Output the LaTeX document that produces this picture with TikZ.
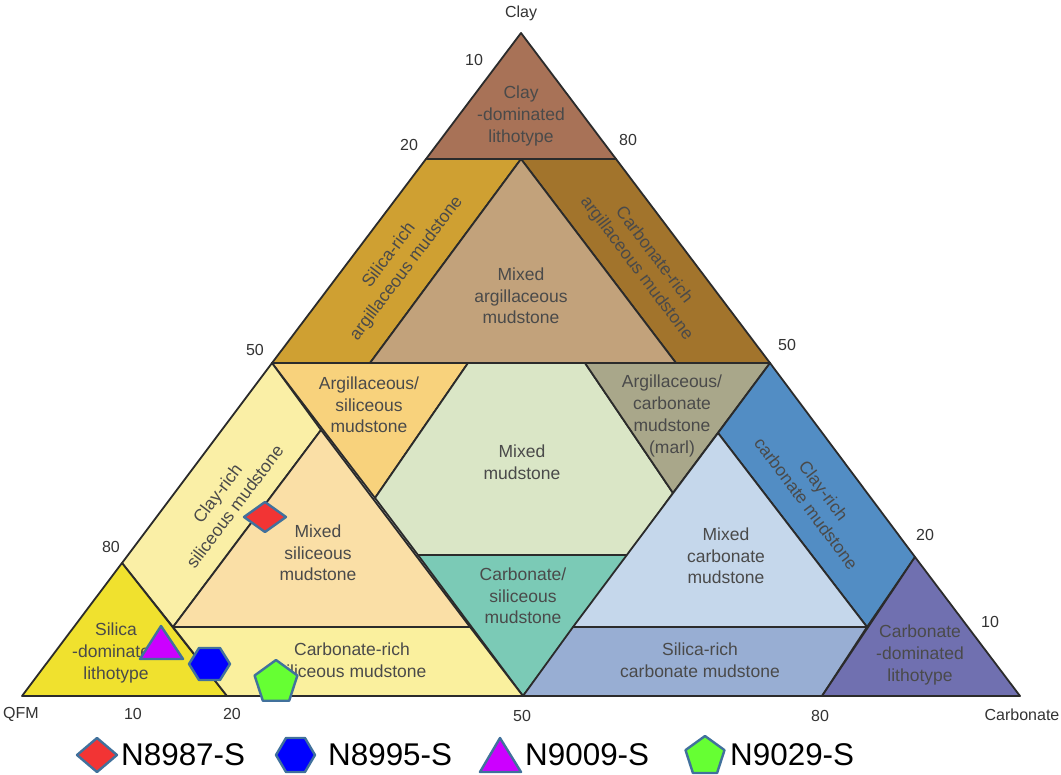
\documentclass[tikz,border=0pt]{standalone}
\usepackage{fontspec}
\setmainfont{Liberation Sans}
\definecolor{edgec}{HTML}{2B2B2B}
\definecolor{labc}{HTML}{4A4A4A}
\definecolor{numc}{HTML}{333333}
\definecolor{mkb}{HTML}{41719C}
\definecolor{cClayDom}{HTML}{A87257}
\definecolor{cSilArg}{HTML}{CFA032}
\definecolor{cCarbArg}{HTML}{A2742C}
\definecolor{cMixArg}{HTML}{C2A27B}
\definecolor{cArgSil}{HTML}{F8D27C}
\definecolor{cMixMud}{HTML}{DAE6C6}
\definecolor{cMarl}{HTML}{A9A78A}
\definecolor{cClaySil}{HTML}{FAEFA6}
\definecolor{cMixSil}{HTML}{FADFA6}
\definecolor{cSilDom}{HTML}{F0E12E}
\definecolor{cCarbSil}{HTML}{FAF09E}
\definecolor{cCarbSilM}{HTML}{7BCAB6}
\definecolor{cMixCarb}{HTML}{C5D7EB}
\definecolor{cClayCarb}{HTML}{528DC4}
\definecolor{cSilCarb}{HTML}{98AED3}
\definecolor{cCarbDom}{HTML}{7070B0}
\definecolor{mRed}{HTML}{F23434}
\definecolor{mBlue}{HTML}{0000FF}
\definecolor{mPurp}{HTML}{CC00FF}
\definecolor{mGreen}{HTML}{66FF33}
\begin{document}
\begin{tikzpicture}[x=1pt,y=-1pt,
  region/.style={draw=edgec, line width=1.8pt, line join=round},
  lab/.style={align=center, text=labc, font=\fontsize{17.5}{21.7}\selectfont, inner sep=0pt},
  axl/.style={text=numc, font=\fontsize{16}{18}\selectfont, inner sep=0pt},
  mk/.style={draw=mkb, line width=2.4pt, line join=round},
  leg/.style={anchor=base west, inner sep=0pt, font=\fontsize{31.4}{36}\selectfont}]
\fill[white] (0,0) rectangle (1061,775);
\useasboundingbox (0,0) rectangle (1061,775);
% vertices
\coordinate (L) at (22,696);
\coordinate (R) at (1020,696);
\coordinate (T) at (521,33);
\coordinate (c8l) at (426,159);
\coordinate (c8m) at (521,159);
\coordinate (c8r) at (616,159);
\coordinate (c5l) at (272,363);
\coordinate (ma1) at (370,363);
\coordinate (as1) at (468,363);
\coordinate (mr1) at (585,363);
\coordinate (ma2) at (676,363);
\coordinate (c5r) at (770,363);
\coordinate (cs1) at (321,430);
\coordinate (bs1) at (718,433);
\coordinate (asb) at (375,498);
\coordinate (mrb) at (673,493);
\coordinate (sd1) at (122,563);
\coordinate (cd1) at (915,557);
\coordinate (cs2) at (418,555);
\coordinate (cs3) at (628,555);
\coordinate (j1) at (173,627);
\coordinate (j2) at (470,627);
\coordinate (j3) at (573,627);
\coordinate (j4) at (867,627);
\coordinate (sd2) at (227,696);
\coordinate (bm) at (523,696);
\coordinate (cd2) at (822,696);
% regions
\path[region, fill=cClayDom] (c8l) -- (T) -- (c8r) -- cycle;
\path[region, fill=cSilArg] (c5l) -- (c8l) -- (c8m) -- (ma1) -- cycle;
\path[region, fill=cCarbArg] (c8m) -- (c8r) -- (c5r) -- (ma2) -- cycle;
\path[region, fill=cMixArg] (c8m) -- (ma1) -- (ma2) -- cycle;
\path[region, fill=cArgSil] (c5l) -- (as1) -- (asb) -- cycle;
\path[region, fill=cMixMud] (as1) -- (mr1) -- (mrb) -- (cs3) -- (cs2) -- (asb) -- cycle;
\path[region, fill=cMarl] (mr1) -- (c5r) -- (mrb) -- cycle;
\path[region, fill=cCarbSilM] (cs2) -- (cs3) -- (bm) -- cycle;
\path[region, fill=cClaySil] (c5l) -- (cs1) -- (j1) -- (sd1) -- cycle;
\path[region, fill=cMixSil] (cs1) -- (j2) -- (j1) -- cycle;
\path[region, fill=cSilDom] (sd1) -- (sd2) -- (L) -- cycle;
\path[region, fill=cCarbSil] (j1) -- (j2) -- (bm) -- (sd2) -- cycle;
\path[region, fill=cClayCarb] (c5r) -- (cd1) -- (j4) -- (bs1) -- cycle;
\path[region, fill=cMixCarb] (bs1) -- (j4) -- (j3) -- cycle;
\path[region, fill=cSilCarb] (j3) -- (j4) -- (cd2) -- (bm) -- cycle;
\path[region, fill=cCarbDom] (cd1) -- (R) -- (cd2) -- cycle;
% region labels
\node[lab] (tClayDom) at (521,116) {Clay\\-dominated\\lithotype};
\node[lab, rotate=53] (tSilArg) at (398,262) {Silica-rich\\argillaceous mudstone};
\node[lab, rotate=-53] (tCarbArg) at (645,262) {Carbonate-rich\\argillaceous mudstone};
\node[lab] (tMixArg) at (521,296) {Mixed\\argillaceous\\mudstone};
\node[lab] (tArgSil) at (369,405) {Argillaceous/\\siliceous\\mudstone};
\node[lab] (tMixMud) at (522,462) {Mixed\\mudstone};
\node[lab] (tMarl) at (672,416) {Argillaceous/\\carbonate\\mudstone\\(marl)};
\node[lab, rotate=53] (tClaySil) at (226,500) {Clay-rich\\siliceous mudstone};
\node[lab] (tMixSil) at (318,553) {Mixed\\siliceous\\mudstone};
\node[lab] (tSilDom) at (116,653) {Silica\\-dominated\\lithotype};
\node[lab] (tCarbSil) at (352,660) {Carbonate-rich\\siliceous mudstone};
\node[lab] (tCarbSilM) at (523,596) {Carbonate/\\siliceous\\mudstone};
\node[lab] (tMixCarb) at (726,556) {Mixed\\carbonate\\mudstone};
\node[lab, rotate=-53] (tClayCarb) at (815,497) {Clay-rich\\carbonate mudstone};
\node[lab] (tSilCarb) at (700,660) {Silica-rich\\carbonate mudstone};
\node[lab] (tCarbDom) at (920,655) {Carbonate\\-dominated\\lithotype};
% axis labels
\node[axl] (aClay) at (521,13) {Clay};
\node[axl] (aQFM) at (21,714) {QFM};
\node[axl] (aCarb) at (1022,715) {Carbonate};
\node[axl] (l10) at (474,60) {10};
\node[axl] (l20) at (409,145) {20};
\node[axl] (l50) at (255,350) {50};
\node[axl] (l80) at (111,547) {80};
\node[axl] (r80) at (628,140) {80};
\node[axl] (r50) at (787,345) {50};
\node[axl] (r20) at (925,535) {20};
\node[axl] (r10) at (990,622) {10};
\node[axl] (b10) at (133,714) {10};
\node[axl] (b20) at (232,714) {20};
\node[axl] (b50) at (522,716) {50};
\node[axl] (b80) at (820,716) {80};
% data markers
\path[mk, fill=mRed] (244,517) -- (265,502) -- (286,517) -- (265,532) -- cycle;
\path[mk, fill=mPurp] (161,626) -- (183,659) -- (140,659) -- cycle;
\path[mk, fill=mBlue] (189,664) -- (199,648) -- (220,648) -- (230,664) -- (220,680) -- (199,680) -- cycle;
\path[mk, fill=mGreen] (276,660) -- ++(21.4,15.5) -- ++(-8.2,25.2) -- ++(-26.4,0) -- ++(-8.2,-25.2) -- cycle;
% legend
\path[mk, fill=mRed] (77,755) -- (97,738) -- (117,755) -- (97,772) -- cycle;
\node[leg] (n1) at (121,765) {N8987-S};
\path[mk, fill=mBlue] (276,755) -- (286,738) -- (305,738) -- (315,755) -- (305,772) -- (286,772) -- cycle;
\node[leg] (n2) at (328,765) {N8995-S};
\path[mk, fill=mPurp] (500,738) -- (521,772) -- (480,772) -- cycle;
\node[leg] (n3) at (525,765) {N9009-S};
\path[mk, fill=mGreen] (705,736) -- ++(19.5,14.1) -- ++(-7.4,22.9) -- ++(-24.2,0) -- ++(-7.4,-22.9) -- cycle;
\node[leg] (n4) at (730,765) {N9029-S};
\end{tikzpicture}
\end{document}
